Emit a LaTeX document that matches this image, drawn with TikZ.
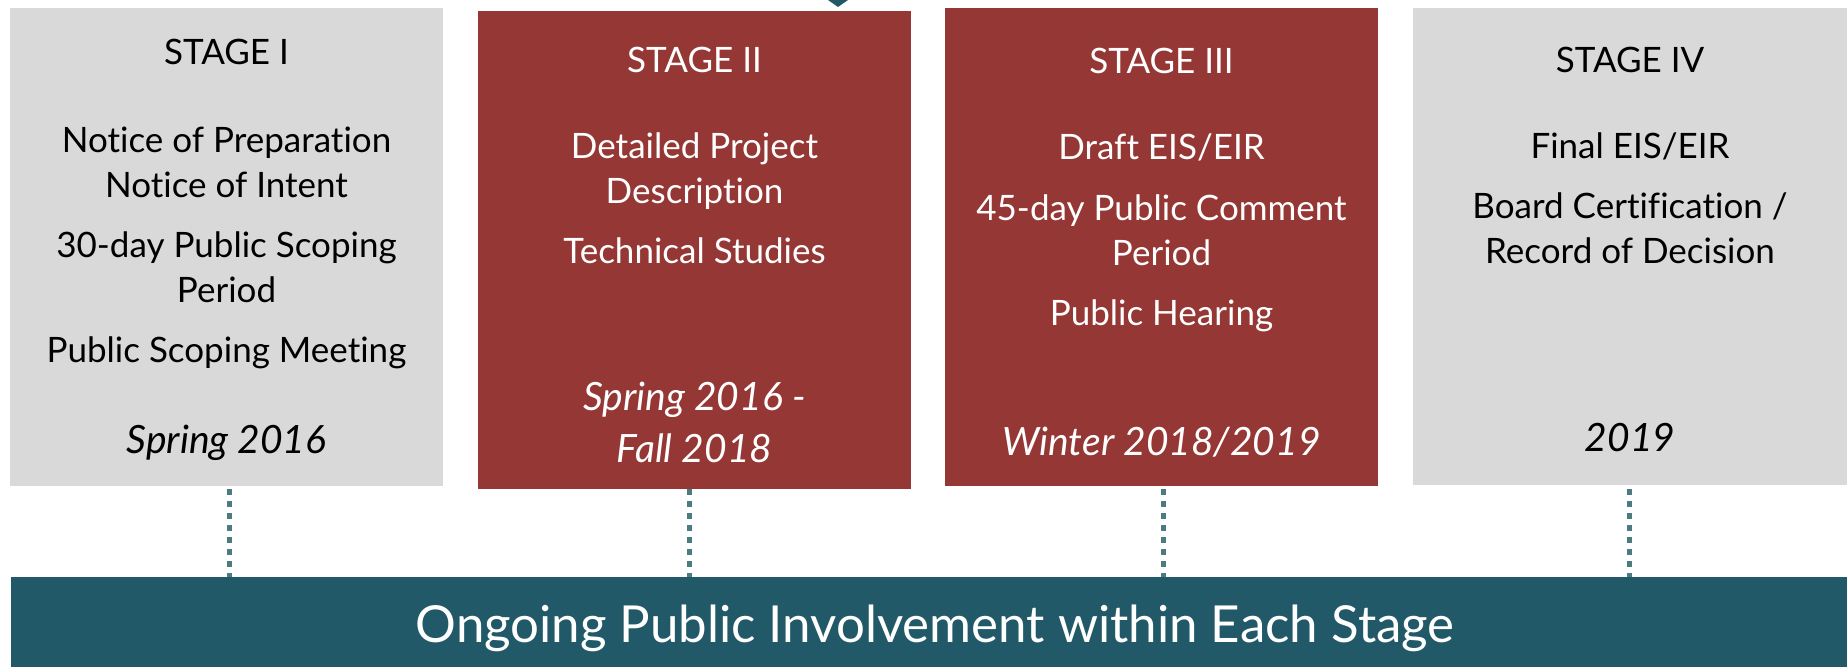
\documentclass[tikz,border=0pt]{standalone}
\usepackage{fontspec}
\setmainfont{Lato}[Ligatures=NoCommon]
\definecolor{stagegray}{HTML}{D9D9D9}
\definecolor{stagered}{HTML}{953735}
\definecolor{bandteal}{HTML}{215968}
\definecolor{dotteal}{HTML}{4A7C82}
\tikzset{
  stagebox/.style={draw=none,rectangle,anchor=north west,minimum width=433pt,minimum height=478pt},
  stagetext/.style={anchor=base,align=center,font=\fontsize{35}{45}\selectfont},
  datetext/.style={anchor=base,align=center,font=\fontsize{39}{52}\selectfont\itshape},
  dotline/.style={draw=dotteal,line width=5pt,dash pattern=on 6pt off 6pt}
}
\begin{document}
\begin{tikzpicture}[y=1pt, x=1pt, yscale=-1, inner sep=0pt, outer sep=0pt]
  \useasboundingbox (0,0) rectangle (1847,667);
  \clip (0,0) rectangle (1847,667);
  % stage boxes
  \node[stagebox,fill=stagegray] (stage1) at (10,8) {};
  \node[stagebox,fill=stagered] (stage2) at (478,11) {};
  \node[stagebox,fill=stagered] (stage3) at (945,8) {};
  \node[stagebox,fill=stagegray,minimum width=434pt,minimum height=477pt] (stage4) at (1413,8) {};
  \path[fill=bandteal] (828,0) -- (848,0) -- (838,7) -- cycle;
  % stage I (two-line texts sit on their last baseline)
  \node[stagetext,text=black] (s1title) at (226.5,64) {STAGE I};
  \node[stagetext,text=black] (s1notice) at (226.5,197) {Notice of Preparation\\Notice of Intent};
  \node[stagetext,text=black] (s1period) at (226.5,302) {30-day Public Scoping\\Period};
  \node[stagetext,text=black] (s1meet) at (226.5,362) {Public Scoping Meeting};
  \node[datetext,text=black] (s1date) at (226.5,453) {Spring 2016};
  % stage II
  \node[stagetext,text=white] (s2title) at (694.5,72) {STAGE II};
  \node[stagetext,text=white] (s2desc) at (694.5,203) {Detailed Project\\Description};
  \node[stagetext,text=white] (s2tech) at (694.5,263) {Technical Studies};
  \node[datetext,text=white] (s2date) at (694.5,462) {Spring 2016 -\\Fall 2018};
  % stage III
  \node[stagetext,text=white] (s3title) at (1161.5,73) {STAGE III};
  \node[stagetext,text=white] (s3draft) at (1161.5,159) {Draft EIS/EIR};
  \node[stagetext,text=white] (s3comment) at (1161.5,265) {45-day Public Comment\\Period};
  \node[stagetext,text=white] (s3hear) at (1161.5,325) {Public Hearing};
  \node[datetext,text=white] (s3date) at (1161.5,455) {Winter 2018/2019};
  % stage IV
  \node[stagetext,text=black] (s4title) at (1630,72) {STAGE IV};
  \node[stagetext,text=black] (s4final) at (1630,158) {Final EIS/EIR};
  \node[stagetext,text=black] (s4board) at (1630,263) {Board Certification /\\Record of Decision};
  \node[datetext,text=black] (s4date) at (1630,451) {2019};
  % public involvement band
  \node[stagebox,fill=bandteal,minimum width=1836pt,minimum height=90pt] (band) at (11,577) {};
  \node[anchor=base,text=white,font=\fontsize{51}{56}\selectfont] (bandtext) at (935,642)
    {Ongoing Public Involvement within Each Stage};
  % dotted ties
  \coordinate (tie1) at (229,489);
  \coordinate (tie2) at (689,489);
  \coordinate (tie3) at (1163,489);
  \coordinate (tie4) at (1629,489);
  \draw[dotline] (tie1) -- (tie1 |- band.north);
  \draw[dotline] (tie2) -- (tie2 |- band.north);
  \draw[dotline] (tie3) -- (tie3 |- band.north);
  \draw[dotline] (tie4) -- (tie4 |- band.north);
\end{tikzpicture}
\end{document}
